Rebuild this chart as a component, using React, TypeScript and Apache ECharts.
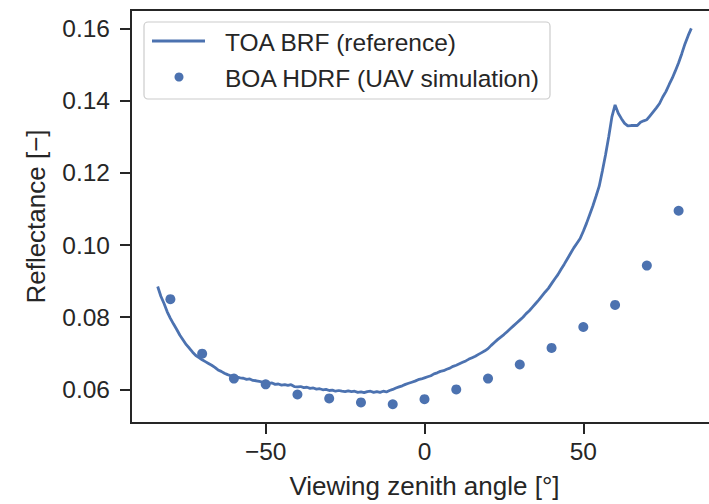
import React, { useEffect, useRef } from "react";
import * as echarts from "echarts";

const toaAngles = [
  -84, -83, -82, -81, -80, -79, -78, -77, -76, -75, -74, -73, -72, -71, -70, -69, -68, -67, -66, -65,
  -64, -63, -62, -61, -60, -59, -58, -57, -56, -55, -54, -53, -52, -51, -50, -49, -48, -47, -46, -45,
  -44, -43, -42, -41, -40, -39, -38, -37, -36, -35, -34, -33, -32, -31, -30, -29, -28, -27, -26, -25,
  -24, -23, -22, -21, -20, -19, -18, -17, -16, -15, -14, -13, -12, -11, -10, -9, -8, -7, -6, -5,
  -4, -3, -2, -1, 0, 1, 2, 3, 4, 5, 6, 7, 8, 9, 10, 11, 12, 13, 14, 15,
  16, 17, 18, 19, 20, 21, 22, 23, 24, 25, 26, 27, 28, 29, 30, 31, 32, 33, 34, 35,
  36, 37, 38, 39, 40, 41, 42, 43, 44, 45, 46, 47, 48, 49, 50, 51, 52, 53, 54, 55,
  56, 57, 58, 59, 60, 61, 62, 63, 64, 65, 66, 67, 68, 69, 70, 71, 72, 73, 74, 75,
  76, 77, 78, 79, 80, 81, 82, 83, 84,
];

const toaBrf = [
  0.0885, 0.0858, 0.0838, 0.0815, 0.0797, 0.0781, 0.0766, 0.075, 0.0737, 0.0724, 0.0714, 0.0703, 0.0694, 0.0688, 0.0682, 0.0677, 0.0672, 0.0667, 0.0661, 0.0654,
  0.065, 0.0645, 0.0641, 0.0638, 0.0636, 0.0634, 0.0632, 0.0631, 0.0628, 0.0629, 0.0625, 0.0624, 0.0622, 0.062, 0.062, 0.0617, 0.0618, 0.0614, 0.0615, 0.0612,
  0.0613, 0.0611, 0.0613, 0.0608, 0.0607, 0.0608, 0.0605, 0.0606, 0.0603, 0.0604, 0.0601, 0.0602, 0.0599, 0.06, 0.0597, 0.0598, 0.0595, 0.0597, 0.0595, 0.0594,
  0.0596, 0.0594, 0.0595, 0.0592, 0.0593, 0.0591, 0.0594, 0.0595, 0.0592, 0.0594, 0.0592, 0.0595, 0.0593, 0.0597, 0.06, 0.0604, 0.0607, 0.061, 0.0614, 0.0617,
  0.062, 0.0623, 0.0627, 0.0629, 0.0632, 0.0635, 0.0638, 0.0643, 0.0646, 0.065, 0.0652, 0.0656, 0.0659, 0.0664, 0.0667, 0.0671, 0.0675, 0.0679, 0.0684, 0.0688,
  0.0692, 0.0697, 0.0702, 0.0707, 0.0713, 0.0722, 0.073, 0.0738, 0.0745, 0.0752, 0.076, 0.0768, 0.0776, 0.0784, 0.0792, 0.08, 0.081, 0.0818, 0.0828, 0.0838,
  0.0848, 0.0859, 0.087, 0.088, 0.0893, 0.0906, 0.0918, 0.0933, 0.0947, 0.0962, 0.0977, 0.0992, 0.1005, 0.1018, 0.1038, 0.106, 0.1084, 0.1108, 0.1135, 0.1163,
  0.1205, 0.125, 0.13, 0.1355, 0.1388, 0.1365, 0.135, 0.1337, 0.133, 0.1331, 0.1331, 0.1331, 0.134, 0.1344, 0.1347, 0.1358, 0.1369, 0.138, 0.1392, 0.141,
  0.1425, 0.1444, 0.1462, 0.1483, 0.1505, 0.153, 0.1557, 0.158, 0.16,
];

const boaAngles = [-80, -70, -60, -50, -40, -30, -20, -10, 0, 10, 20, 30, 40, 50, 60, 70, 80];
const boaHdrf = [
  0.085, 0.0699, 0.063, 0.0614, 0.0586, 0.0575, 0.0564, 0.0559, 0.0573, 0.06, 0.063, 0.0669, 0.0715, 0.0773, 0.0834, 0.0943, 0.1095,
];

const xTicks = [-50, 0, 50];
const yTicks = [0.06, 0.08, 0.1, 0.12, 0.14, 0.16];

const legendLabels = ["TOA BRF (reference)", "BOA HDRF (UAV simulation)"];

const BLUE = "#4c72b0";
const INK = "#262626";
const FONT = "'Liberation Sans', Arial, sans-serif";
const FS = 24.5;
const NAME_FS = 26;

export default function App() {
  const ref = useRef<HTMLDivElement>(null);
  useEffect(() => {
    if (!ref.current) return;
    const chart = echarts.init(ref.current, undefined, { renderer: "svg" });
    const option: any = {
      animation: false,
      backgroundColor: "#ffffff",
      grid: {
        left: 131,
        top: 10,
        width: 587,
        height: 416,
        show: true,
        borderColor: INK,
        borderWidth: 2,
        backgroundColor: "transparent",
      },
      xAxis: {
        type: "value",
        min: -92.4,
        max: 92.4,
        splitLine: { show: false },
        axisLine: { show: true, onZero: false, lineStyle: { color: INK, width: 2 } },
        axisTick: { show: true, customValues: xTicks, length: 11, lineStyle: { color: INK, width: 2 } },
        axisLabel: {
          customValues: xTicks,
          fontSize: FS,
          fontFamily: FONT,
          color: INK,
          margin: 16,
          formatter: (v: number) => (v < 0 ? "\u2212" + Math.abs(v) : String(v)),
        },
        name: "Viewing zenith angle [°]",
        nameLocation: "middle",
        nameGap: 50,
        nameTextStyle: { fontSize: NAME_FS, fontFamily: FONT, color: INK },
      },
      yAxis: {
        type: "value",
        min: 0.0507,
        max: 0.1651,
        splitLine: { show: false },
        axisLine: { show: true, onZero: false, lineStyle: { color: INK, width: 2 } },
        axisTick: { show: true, customValues: yTicks, length: 11, lineStyle: { color: INK, width: 2 } },
        axisLabel: {
          customValues: yTicks,
          fontSize: FS,
          fontFamily: FONT,
          color: INK,
          margin: 21,
          formatter: (v: number) => v.toFixed(2),
        },
        name: "Reflectance [\u2212]",
        nameLocation: "middle",
        nameGap: 82,
        nameRotate: 90,
        nameTextStyle: { fontSize: NAME_FS, fontFamily: FONT, color: INK },
      },
      series: [
        {
          name: legendLabels[0],
          type: "line",
          data: toaAngles.map((a, i) => [a, toaBrf[i]]),
          symbol: "none",
          showSymbol: false,
          lineStyle: { color: BLUE, width: 2.8 },
          z: 2,
        },
        {
          name: legendLabels[1],
          type: "scatter",
          data: boaAngles.map((a, i) => [a, boaHdrf[i]]),
          symbol: "circle",
          symbolSize: 10,
          itemStyle: { color: BLUE, opacity: 1 },
          z: 3,
        },
      ],
      graphic: [
        {
          type: "rect",
          shape: { x: 144, y: 22, width: 406, height: 77, r: 4 },
          style: { fill: "rgba(255,255,255,0.8)", stroke: "#cccccc", lineWidth: 1.2 },
          z: 10,
        },
        {
          type: "line",
          shape: { x1: 152, y1: 41, x2: 205, y2: 41 },
          style: { stroke: BLUE, lineWidth: 2.8 },
          z: 11,
        },
        {
          type: "circle",
          shape: { cx: 179, cy: 77, r: 4.5 },
          style: { fill: BLUE },
          z: 11,
        },
        {
          type: "text",
          x: 225,
          y: 42,
          style: { text: legendLabels[0], font: `${FS}px ${FONT}`, fill: INK, verticalAlign: "middle" },
          z: 11,
        },
        {
          type: "text",
          x: 225,
          y: 78,
          style: { text: legendLabels[1], font: `${FS}px ${FONT}`, fill: INK, verticalAlign: "middle" },
          z: 11,
        },
      ],
    };
    chart.setOption(option);
    return () => chart.dispose();
  }, []);
  return (
    <div
      style={{
        position: "fixed",
        left: 0,
        top: 0,
        width: 709,
        height: 504,
        overflow: "hidden",
        background: "#fff",
      }}
    >
      <div ref={ref} style={{ position: "absolute", left: 0, top: 0, width: 730, height: 504 }} />
    </div>
  );
}
